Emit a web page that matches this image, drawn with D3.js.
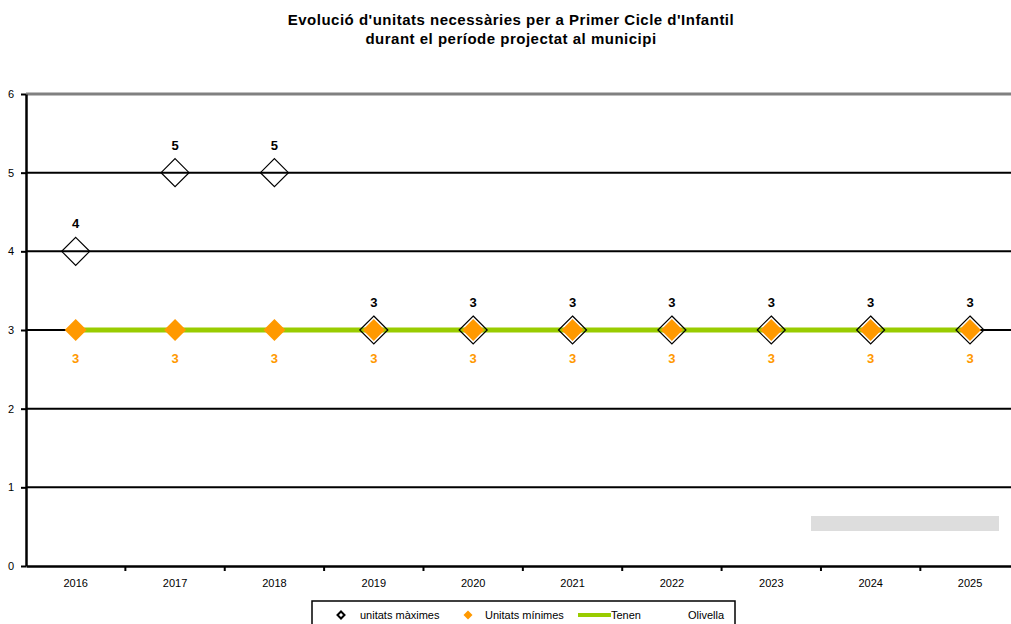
<!DOCTYPE html>
<html><head><meta charset="utf-8">
<script src="https://cdn.jsdelivr.net/npm/d3@7"></script>
<style>body{margin:0;background:#fff}svg{display:block;font-family:"Liberation Sans",Arial,sans-serif}</style>
</head><body>
<svg id="c" width="1011" height="624"></svg>
<script>
const years = ["2016","2017","2018","2019","2020","2021","2022","2023","2024","2025"];
const maxUnits = [4,5,5,3,3,3,3,3,3,3];
const minUnits = [3,3,3,3,3,3,3,3,3,3];
const tenen = [3,3,3,3,3,3,3,3,3,3];
const yTicks = [0,1,2,3,4,5,6];
const titleLines = ["Evolució d'unitats necessàries per a Primer Cicle d'Infantil","durant el període projectat al municipi"];
const legendLabels = ["unitats màximes","Unitats mínimes","Tenen","Olivella"];

const svg = d3.select("#c");
const L = 26, R = 1019.7, T = 94, B = 566;
const x = d3.scaleBand().domain(years).range([L, R]);
const y = d3.scaleLinear().domain([0, 6]).range([B, T]);
const cx = d => x(d) + x.bandwidth()/2;

// title
svg.append("g").selectAll("text").data(titleLines).join("text")
  .attr("x", 511).attr("y", (d,i)=>25 + i*19).attr("text-anchor","middle")
  .attr("font-size", 15).attr("font-weight","bold").attr("letter-spacing", 0.5).text(d=>d);

// gridlines
svg.append("g").selectAll("line").data(yTicks.filter(v=>v>0)).join("line")
  .attr("x1", L).attr("x2", 1011).attr("y1", d=>y(d)).attr("y2", d=>y(d))
  .attr("stroke", d=> d===6 ? "#808080" : "#000").attr("stroke-width", d=> d===6 ? 3 : 2);

// gray rectangle
svg.append("rect").attr("x", 811).attr("y", 516).attr("width", 188).attr("height", 15).attr("fill", "#dddddd");

// y axis
const ya = svg.append("g").attr("transform", `translate(${L},0)`)
  .call(d3.axisLeft(y).tickValues(yTicks).tickFormat(d3.format("d")).tickSize(5).tickSizeOuter(0).tickPadding(7));
ya.select(".domain").attr("stroke-width", 2.5);
ya.selectAll(".tick line").attr("stroke-width", 2);
ya.selectAll("text").attr("font-size", 11).attr("font-family","Liberation Sans, Arial, sans-serif");

// x axis
const xa = svg.append("g").attr("transform", `translate(0,${B})`)
  .call(d3.axisBottom(x).tickSize(0).tickSizeOuter(0).tickPadding(13));
xa.select(".domain").attr("stroke-width", 2.5);
xa.selectAll("text").attr("font-size", 11).attr("font-family","Liberation Sans, Arial, sans-serif");
svg.append("g").selectAll("line").data(years.slice(1)).join("line")
  .attr("x1", d=>x(d)).attr("x2", d=>x(d)).attr("y1", B).attr("y2", B+5)
  .attr("stroke","#000").attr("stroke-width",2);

// Tenen line
svg.append("path").datum(tenen)
  .attr("d", d3.line().x((d,i)=>cx(years[i])).y(d=>y(d)))
  .attr("fill","none").attr("stroke","#99cc00").attr("stroke-width",5);

const diamond = s => `M0,${-s}L${s},0L0,${s}L${-s},0Z`;

// min units markers
svg.append("g").selectAll("path").data(minUnits).join("path")
  .attr("transform",(d,i)=>`translate(${cx(years[i])},${y(d)})`)
  .attr("d", diamond(11)).attr("fill","#ff9900");

// max units markers (hollow)
svg.append("g").selectAll("path").data(maxUnits).join("path")
  .attr("transform",(d,i)=>`translate(${cx(years[i])},${y(d)})`)
  .attr("d", diamond(14)).attr("fill","none").attr("stroke","#000").attr("stroke-width",1.2);

// labels
svg.append("g").selectAll("text").data(maxUnits).join("text")
  .attr("x",(d,i)=>cx(years[i])).attr("y", d=>y(d)-23).attr("text-anchor","middle")
  .attr("font-size",13).attr("font-weight","bold").attr("fill","#000").text(d=>d);
svg.append("g").selectAll("text").data(minUnits).join("text")
  .attr("x",(d,i)=>cx(years[i])).attr("y", d=>y(d)+33).attr("text-anchor","middle")
  .attr("font-size",13).attr("font-weight","bold").attr("fill","#ff9900").text(d=>d);

// legend
const lg = svg.append("g");
lg.append("rect").attr("x",312).attr("y",601).attr("width",423).attr("height",40)
  .attr("fill","#fff").attr("stroke","#000").attr("stroke-width",1.5);
lg.append("path").attr("transform","translate(341,615)").attr("d",diamond(3.5))
  .attr("fill","#fff").attr("stroke","#000").attr("stroke-width",2);
lg.append("path").attr("transform","translate(468,615)").attr("d",diamond(4.5)).attr("fill","#ff9900");
lg.append("line").attr("x1",578).attr("x2",611).attr("y1",615).attr("y2",615).attr("stroke","#99cc00").attr("stroke-width",4);
const lx = [360,485,611,688];
lg.selectAll("text").data(legendLabels).join("text")
  .attr("x",(d,i)=>lx[i]).attr("y",619).attr("font-size",11).text(d=>d);
</script>
</body></html>
